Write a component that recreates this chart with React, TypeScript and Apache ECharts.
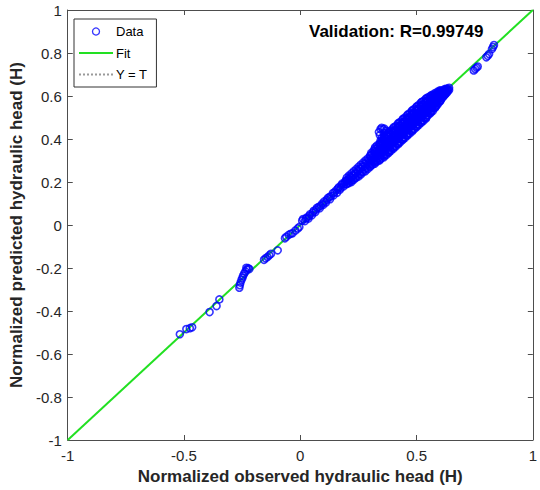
import React, { useEffect, useRef } from "react";
import * as echarts from "echarts";

// Isolated observations in the lower part of the range [observed, predicted]
const lowerTail: [number, number][] = [
  [-0.518, -0.508], [-0.49, -0.484], [-0.475, -0.48], [-0.465, -0.476],
  [-0.39, -0.405], [-0.36, -0.377], [-0.348, -0.346],
  [-0.262, -0.292], [-0.26, -0.28], [-0.257, -0.268], [-0.253, -0.256],
  [-0.249, -0.246], [-0.246, -0.236], [-0.241, -0.226], [-0.236, -0.216],
  [-0.23, -0.207], [-0.224, -0.201], [-0.232, -0.199], [-0.219, -0.205],
  [-0.156, -0.162], [-0.149, -0.155], [-0.141, -0.149], [-0.133, -0.141], [-0.126, -0.134],
  [-0.097, -0.118],
  [-0.066, -0.062], [-0.06, -0.055], [-0.05, -0.046], [-0.041, -0.041],
  [-0.033, -0.038], [-0.021, -0.026], [-0.011, -0.016], [-0.004, -0.009],
];

// Thin run of observations between 0 and 0.2
const middleRun: [number, number][] = [
  [0.008, 0.02], [0.012, 0.028], [0.02, 0.018], [0.024, 0.03], [0.028, 0.035],
  [0.035, 0.03], [0.038, 0.042], [0.042, 0.05], [0.05, 0.045], [0.054, 0.058],
  [0.058, 0.066], [0.065, 0.06], [0.068, 0.072], [0.072, 0.08], [0.08, 0.085],
  [0.084, 0.078], [0.088, 0.09], [0.095, 0.1], [0.099, 0.094], [0.103, 0.11],
  [0.11, 0.105], [0.114, 0.116], [0.118, 0.125], [0.125, 0.13], [0.128, 0.12],
  [0.132, 0.134], [0.14, 0.148], [0.144, 0.138], [0.147, 0.152], [0.155, 0.162],
  [0.158, 0.15], [0.162, 0.17], [0.166, 0.176], [0.17, 0.164], [0.174, 0.172],
  [0.177, 0.186], [0.181, 0.193], [0.185, 0.179], [0.188, 0.19], [0.192, 0.2],
  [0.196, 0.208], [0.198, 0.19],
];

// Local excursion above the fit around observed 0.35
const bump: [number, number][] = [
  [0.338, 0.432], [0.345, 0.445], [0.35, 0.452], [0.356, 0.446], [0.362, 0.448],
  [0.368, 0.438], [0.342, 0.418], [0.36, 0.428],
];

// Dense band, first set: each row is [observed, predicted values...]
const denseRowsA: number[][] = [
  [0.2, 0.19, 0.205, 0.22],
  [0.21, 0.195, 0.215, 0.23],
  [0.22, 0.2, 0.22, 0.24],
  [0.23, 0.21, 0.23, 0.25],
  [0.24, 0.22, 0.24, 0.26],
  [0.25, 0.225, 0.25, 0.27],
  [0.26, 0.235, 0.26, 0.28],
  [0.27, 0.245, 0.27, 0.29],
  [0.28, 0.25, 0.275, 0.3],
  [0.29, 0.26, 0.285, 0.31],
  [0.3, 0.27, 0.295, 0.32],
  [0.31, 0.28, 0.305, 0.33],
  [0.32, 0.285, 0.31, 0.335, 0.355],
  [0.33, 0.295, 0.32, 0.345, 0.37],
  [0.34, 0.3, 0.325, 0.35, 0.375],
  [0.35, 0.31, 0.335, 0.36, 0.385, 0.405],
  [0.36, 0.315, 0.34, 0.365, 0.39, 0.41],
  [0.37, 0.325, 0.35, 0.375, 0.4, 0.42],
  [0.38, 0.335, 0.36, 0.385, 0.41, 0.43],
  [0.39, 0.345, 0.37, 0.395, 0.42, 0.44],
  [0.4, 0.355, 0.38, 0.405, 0.43, 0.45],
  [0.41, 0.365, 0.39, 0.415, 0.44, 0.46],
  [0.42, 0.375, 0.4, 0.425, 0.45, 0.47],
  [0.43, 0.385, 0.41, 0.435, 0.46, 0.48],
  [0.44, 0.395, 0.42, 0.445, 0.47, 0.49],
  [0.45, 0.405, 0.43, 0.455, 0.48, 0.5],
  [0.46, 0.415, 0.44, 0.465, 0.49, 0.51],
  [0.47, 0.425, 0.45, 0.475, 0.5, 0.52],
  [0.48, 0.435, 0.46, 0.485, 0.51, 0.53],
  [0.49, 0.445, 0.47, 0.495, 0.52, 0.54],
  [0.5, 0.455, 0.48, 0.505, 0.53, 0.55],
  [0.51, 0.465, 0.49, 0.515, 0.54, 0.56],
  [0.52, 0.475, 0.5, 0.525, 0.55, 0.57],
  [0.53, 0.485, 0.51, 0.535, 0.56, 0.578],
  [0.54, 0.495, 0.52, 0.545, 0.57, 0.586],
  [0.55, 0.51, 0.53, 0.555, 0.578, 0.594],
  [0.56, 0.52, 0.54, 0.565, 0.586, 0.6],
  [0.57, 0.53, 0.55, 0.575, 0.594, 0.607],
  [0.58, 0.545, 0.565, 0.585, 0.602, 0.614],
  [0.59, 0.56, 0.578, 0.595, 0.61, 0.62],
  [0.6, 0.575, 0.59, 0.605, 0.618, 0.626],
  [0.61, 0.59, 0.603, 0.615, 0.626],
  [0.62, 0.603, 0.615, 0.625, 0.632],
  [0.63, 0.615, 0.626, 0.635],
  [0.64, 0.628, 0.638],
];

// Dense band, second set (observations between the first set's rows)
const denseRowsB: number[][] = [
  [0.205, 0.198, 0.212],
  [0.215, 0.205, 0.225],
  [0.225, 0.21, 0.232],
  [0.235, 0.218, 0.24],
  [0.245, 0.23, 0.255],
  [0.255, 0.238, 0.262],
  [0.265, 0.248, 0.272],
  [0.275, 0.258, 0.285],
  [0.285, 0.265, 0.292],
  [0.295, 0.28, 0.305],
  [0.305, 0.285, 0.312, 0.335],
  [0.315, 0.295, 0.32, 0.345],
  [0.325, 0.3, 0.328, 0.352],
  [0.335, 0.31, 0.338, 0.362],
  [0.345, 0.318, 0.345, 0.37, 0.392],
  [0.355, 0.325, 0.352, 0.378, 0.398],
  [0.365, 0.33, 0.358, 0.383, 0.405],
  [0.375, 0.34, 0.365, 0.39, 0.415],
  [0.385, 0.35, 0.375, 0.4, 0.425],
  [0.395, 0.36, 0.385, 0.41, 0.435],
  [0.405, 0.368, 0.393, 0.418, 0.442],
  [0.415, 0.378, 0.403, 0.428, 0.452],
  [0.425, 0.388, 0.413, 0.438, 0.462],
  [0.435, 0.398, 0.423, 0.448, 0.472],
  [0.445, 0.408, 0.433, 0.458, 0.482],
  [0.455, 0.418, 0.443, 0.468, 0.492],
  [0.465, 0.428, 0.453, 0.478, 0.502],
  [0.475, 0.438, 0.463, 0.488, 0.512],
  [0.485, 0.448, 0.473, 0.498, 0.522],
  [0.495, 0.458, 0.483, 0.508, 0.532],
  [0.505, 0.468, 0.493, 0.518, 0.542],
  [0.515, 0.478, 0.503, 0.528, 0.552],
  [0.525, 0.488, 0.513, 0.538, 0.562],
  [0.535, 0.498, 0.523, 0.548, 0.57],
  [0.545, 0.51, 0.533, 0.558, 0.58],
  [0.555, 0.52, 0.543, 0.568, 0.588],
  [0.565, 0.532, 0.555, 0.578, 0.596],
  [0.575, 0.545, 0.566, 0.586, 0.603],
  [0.585, 0.556, 0.576, 0.594, 0.61],
  [0.595, 0.568, 0.586, 0.602, 0.616],
  [0.605, 0.582, 0.598, 0.612, 0.622],
  [0.615, 0.597, 0.61, 0.622],
  [0.625, 0.61, 0.62, 0.63],
  [0.635, 0.622, 0.632],
];

// Dense band, third set
const denseRowsC: number[][] = [
  [0.302, 0.275, 0.3, 0.325],
  [0.322, 0.292, 0.318, 0.342, 0.362],
  [0.342, 0.305, 0.33, 0.357, 0.38],
  [0.362, 0.322, 0.348, 0.372, 0.396, 0.415],
  [0.382, 0.34, 0.366, 0.392, 0.416, 0.434],
  [0.402, 0.36, 0.386, 0.41, 0.436, 0.455],
  [0.422, 0.38, 0.405, 0.43, 0.456, 0.474],
  [0.442, 0.4, 0.425, 0.45, 0.476, 0.494],
  [0.462, 0.42, 0.445, 0.47, 0.496, 0.514],
  [0.482, 0.44, 0.465, 0.49, 0.516, 0.534],
  [0.502, 0.46, 0.485, 0.51, 0.536, 0.552],
  [0.522, 0.48, 0.505, 0.53, 0.555, 0.572],
  [0.542, 0.5, 0.525, 0.55, 0.574, 0.59],
  [0.562, 0.525, 0.548, 0.57, 0.59, 0.603],
  [0.582, 0.55, 0.57, 0.59, 0.607],
  [0.602, 0.578, 0.595, 0.61, 0.623],
  [0.622, 0.607, 0.622],
];

// Isolated observations at the top of the range
const upperTail: [number, number][] = [
  [0.746, 0.719], [0.752, 0.726], [0.758, 0.732], [0.763, 0.737],
  [0.8, 0.78], [0.806, 0.787], [0.812, 0.795],
  [0.824, 0.818], [0.829, 0.828], [0.833, 0.837],
];

const fitX = [-1, 1];
const fitY = [-1, 1];
const identityX = [-1, 1];
const identityY = [-1, 1];

const xTickStep = 0.5;
const yTickStep = 0.2;

export default function App() {
  const ref = useRef<HTMLDivElement>(null);

  useEffect(() => {
    if (!ref.current) return;
    const chart = echarts.init(ref.current, null, { renderer: "svg" });
    const font = "'Liberation Sans', Arial, Helvetica, sans-serif";
    const axisColor = "#4d4d4d";
    const labelColor = "#262626";
    const blue = "#0000ff";
    const green = "#22e022";

    const densePts: [number, number][] = [];
    [...denseRowsA, ...denseRowsB, ...denseRowsC].forEach((row) => {
      for (let i = 1; i < row.length; i++) densePts.push([row[0], row[i]]);
    });
    const scatterData = [...lowerTail, ...middleRun, ...bump, ...densePts, ...upperTail];

    const baseX = {
      type: "value" as const,
      min: -1,
      max: 1,
      interval: xTickStep,
      splitLine: { show: false },
      axisLine: { show: true, onZero: false, lineStyle: { color: axisColor, width: 1 } },
      axisTick: { show: true, inside: true, length: 5, lineStyle: { color: axisColor } },
    };
    const baseY = {
      type: "value" as const,
      min: -1,
      max: 1,
      interval: yTickStep,
      splitLine: { show: false },
      axisLine: { show: true, onZero: false, lineStyle: { color: axisColor, width: 1 } },
      axisTick: { show: true, inside: true, length: 5, lineStyle: { color: axisColor } },
    };

    chart.setOption({
      animation: false,
      backgroundColor: "#ffffff",
      textStyle: { fontFamily: font },
      title: {
        text: "Validation: R=0.99749",
        left: 309,
        top: 23,
        padding: 0,
        textStyle: { fontSize: 17, fontWeight: "bold", color: "#000000", fontFamily: font },
      },
      legend: {
        orient: "vertical",
        left: 74,
        top: 19,
        padding: [6, 9, 6, 4],
        itemWidth: 34,
        itemHeight: 7,
        itemGap: 8.5,
        borderColor: "#333333",
        borderWidth: 1,
        backgroundColor: "#ffffff",
        textStyle: { fontSize: 13, color: "#000000", fontFamily: font, padding: [0, 0, 0, -2] },
        data: [
          {
            name: "Data",
            icon: "circle",
            itemStyle: { color: "rgba(0,0,0,0)", borderColor: blue, borderWidth: 1.3 },
          },
          { name: "Fit", itemStyle: { opacity: 0 } },
          { name: "Y = T", itemStyle: { opacity: 0 } },
        ],
      },
      grid: { left: 66, right: 4, top: 10, bottom: 50, containLabel: false },
      xAxis: [
        {
          ...baseX,
          position: "bottom",
          axisLabel: { fontSize: 15, color: labelColor, margin: 8, fontFamily: font },
          name: "Normalized observed hydraulic head (H)",
          nameLocation: "middle",
          nameGap: 26,
          nameTextStyle: { fontSize: 17, fontWeight: "bold", color: labelColor, fontFamily: font },
        },
        { ...baseX, position: "top", axisLabel: { show: false } },
      ],
      yAxis: [
        {
          ...baseY,
          position: "left",
          axisLabel: { fontSize: 15, color: labelColor, margin: 6, fontFamily: font },
          name: "Normalized predicted hydraulic head (H)",
          nameLocation: "middle",
          nameGap: 30,
          nameTextStyle: { fontSize: 17, fontWeight: "bold", color: labelColor, fontFamily: font },
        },
        { ...baseY, position: "right", axisLabel: { show: false } },
      ],
      series: [
        {
          name: "Y = T",
          type: "line",
          data: identityX.map((x, i) => [x, identityY[i]]),
          symbol: "none",
          lineStyle: { color: "#9a9a9a", width: 1, type: "dotted" },
          itemStyle: { color: "#9a9a9a" },
          z: 1,
          silent: true,
        },
        {
          name: "Fit",
          type: "line",
          data: fitX.map((x, i) => [x, fitY[i]]),
          symbol: "none",
          lineStyle: { color: green, width: 2 },
          itemStyle: { color: green },
          z: 2,
          silent: true,
        },
        {
          name: "Data",
          type: "scatter",
          data: scatterData,
          symbol: "circle",
          symbolSize: 7,
          itemStyle: { color: "rgba(0,0,0,0)", borderColor: blue, borderWidth: 1.6 },
          z: 3,
          silent: true,
        },
      ],
    });

    return () => chart.dispose();
  }, []);

  return (
    <div
      ref={ref}
      style={{ position: "fixed", left: 0, top: 0, width: 540, height: 490, background: "#fff" }}
    />
  );
}
